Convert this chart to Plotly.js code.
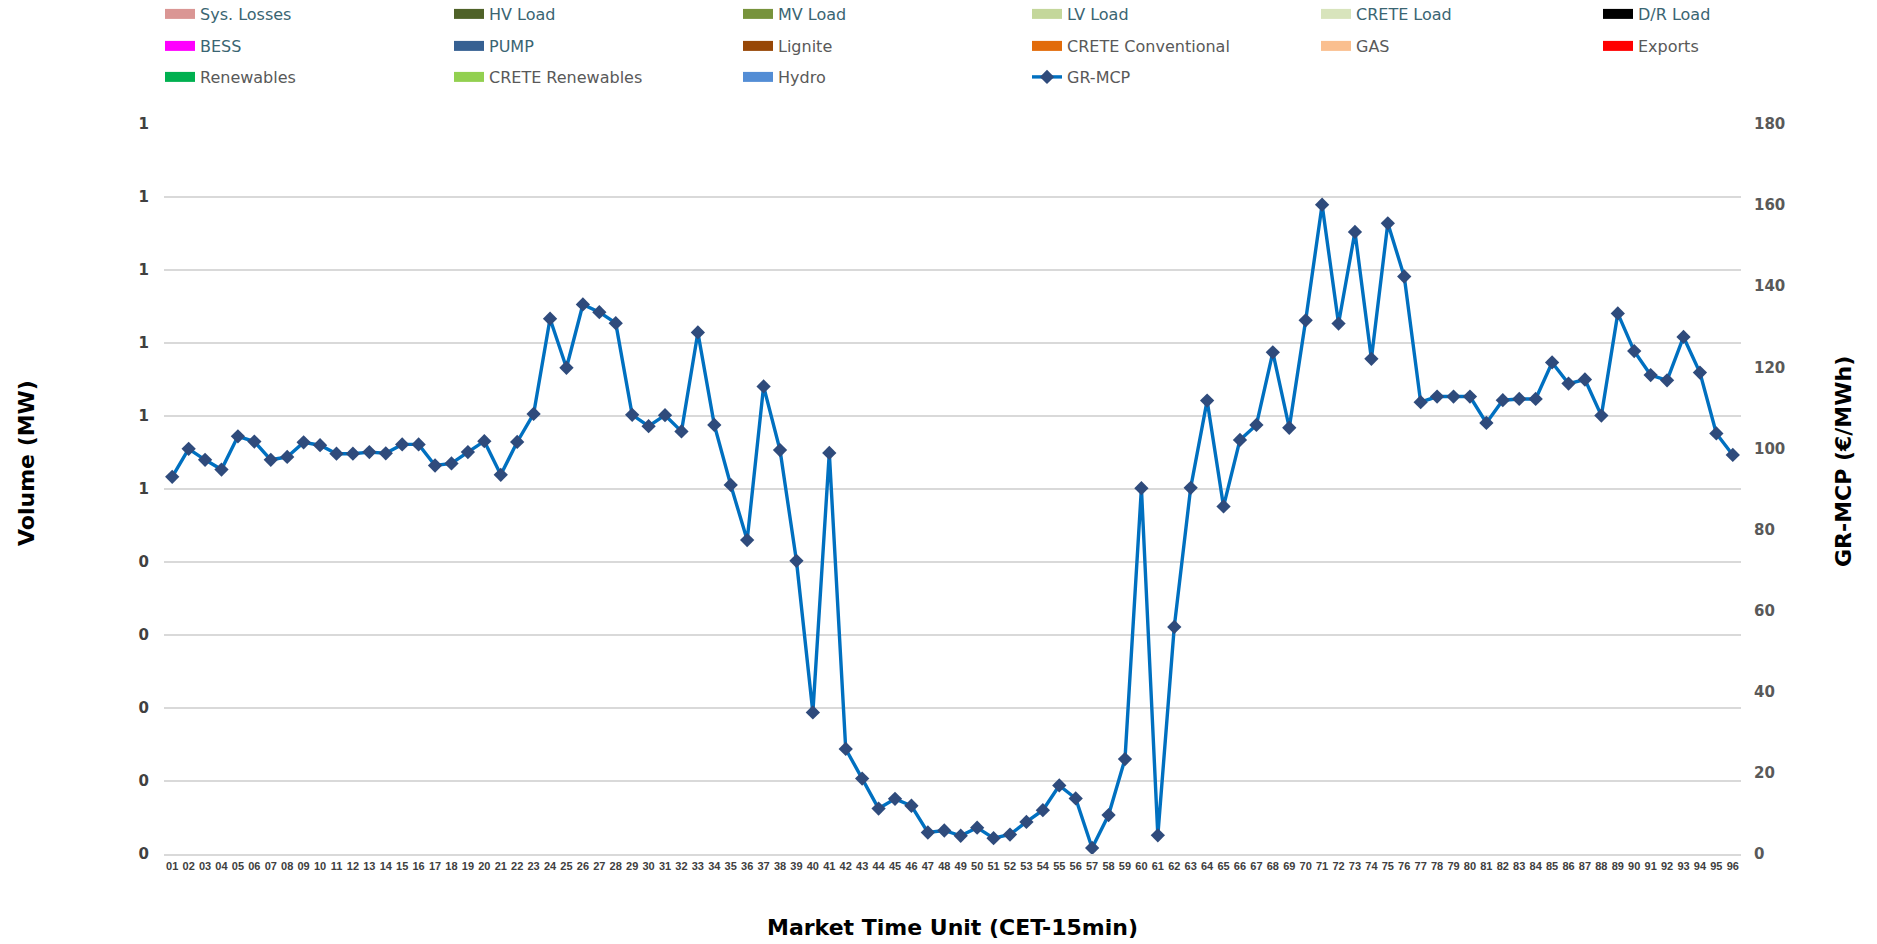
<!DOCTYPE html>
<html>
<head>
<meta charset="utf-8">
<script src="https://cdn.plot.ly/plotly-3.0.1.min.js"></script>
<style>
html,body{margin:0;padding:0;background:#ffffff;}
#chart{width:1877px;height:944px;}
</style>
</head>
<body>
<div id="chart"></div>
<script>
// Market time units (x categories)
const mtu = ['01','02','03','04','05','06','07','08','09','10','11','12','13','14','15','16',
  '17','18','19','20','21','22','23','24','25','26','27','28','29','30','31','32',
  '33','34','35','36','37','38','39','40','41','42','43','44','45','46','47','48',
  '49','50','51','52','53','54','55','56','57','58','59','60','61','62','63','64',
  '65','66','67','68','69','70','71','72','73','74','75','76','77','78','79','80',
  '81','82','83','84','85','86','87','88','89','90','91','92','93','94','95','96'];

// GR-MCP price (€/MWh)
const grMcp = [
  93.0, 99.9, 97.2, 94.8, 103.0, 101.7, 97.2, 97.9, 101.5, 100.8, 98.7, 98.7, 99.1, 98.8, 101.0, 101.0,
  95.8, 96.3, 99.1, 101.8, 93.5, 101.6, 108.5, 132.0, 119.9, 135.5, 133.6, 130.9, 108.3, 105.5, 108.2, 104.2,
  128.6, 105.8, 91.0, 77.4, 115.3, 99.6, 72.3, 34.9, 98.9, 25.9, 18.6, 11.2, 13.6, 11.9, 5.3, 5.8,
  4.5, 6.5, 3.9, 4.8, 7.9, 10.8, 16.9, 13.7, 1.5, 9.6, 23.4, 90.2, 4.6, 56.0, 90.3, 111.8,
  85.7, 102.1, 105.8, 123.7, 105.1, 131.6, 160.1, 130.8, 153.4, 122.1, 155.5, 142.4, 111.4, 112.8, 112.8, 112.8,
  106.3, 111.9, 112.2, 112.2, 121.2, 116.0, 117.0, 108.1, 133.3, 124.0, 118.1, 116.8, 127.5, 118.7, 103.7, 98.4
];

// Volume series (MW) - the reference shows no volume values (blank series)
const sysLosses = [null];
const hvLoad = [null];
const mvLoad = [null];
const lvLoad = [null];
const creteLoad = [null];
const drLoad = [null];
const bess = [null];
const pump = [null];
const lignite = [null];
const creteConventional = [null];
const gas = [null];
const exportsVol = [null];
const renewables = [null];
const creteRenewables = [null];
const hydro = [null];

// Left axis ticks (Volume) and right axis ticks (price)
const volTickVals = [0, 0.1, 0.2, 0.3, 0.4, 0.5, 0.6, 0.7, 0.8, 0.9, 1.0];
const volTickText = ['0', '0', '0', '0', '0', '1', '1', '1', '1', '1', '1'];
const priceTickVals = [0, 20, 40, 60, 80, 100, 120, 140, 160, 180];

const TEAL = '#3A6572';
const GREY = '#595959';

const volumeDefs = [
  {name: 'Sys. Losses', data: sysLosses, color: '#DA9694', txt: TEAL, legend: 'legend'},
  {name: 'HV Load', data: hvLoad, color: '#4F6228', txt: TEAL, legend: 'legend'},
  {name: 'MV Load', data: mvLoad, color: '#77933C', txt: TEAL, legend: 'legend'},
  {name: 'LV Load', data: lvLoad, color: '#C4D79B', txt: TEAL, legend: 'legend'},
  {name: 'CRETE Load', data: creteLoad, color: '#D8E4BC', txt: TEAL, legend: 'legend'},
  {name: 'D/R Load', data: drLoad, color: '#000000', txt: TEAL, legend: 'legend4'},
  {name: 'BESS', data: bess, color: '#FF00FF', txt: TEAL, legend: 'legend2'},
  {name: 'PUMP', data: pump, color: '#366092', txt: TEAL, legend: 'legend2'},
  {name: 'Lignite', data: lignite, color: '#974706', txt: GREY, legend: 'legend2'},
  {name: 'CRETE Conventional', data: creteConventional, color: '#E26B0A', txt: GREY, legend: 'legend2'},
  {name: 'GAS', data: gas, color: '#FABF8F', txt: GREY, legend: 'legend2'},
  {name: 'Exports', data: exportsVol, color: '#FF0000', txt: GREY, legend: 'legend5'},
  {name: 'Renewables', data: renewables, color: '#00B050', txt: GREY, legend: 'legend3'},
  {name: 'CRETE Renewables', data: creteRenewables, color: '#92D050', txt: GREY, legend: 'legend3'},
  {name: 'Hydro', data: hydro, color: '#538DD5', txt: GREY, legend: 'legend3'}
];

const traces = volumeDefs.map(d => ({
  type: 'scatter',
  mode: 'lines',
  x: mtu.slice(0, d.data.length),
  y: d.data,
  xaxis: 'x',
  yaxis: 'y',
  name: '<span style="color:' + d.txt + '">' + d.name + '</span>',
  line: {color: d.color, width: 11},
  legend: d.legend,
  hoverinfo: 'skip'
}));

traces.push({
  type: 'scatter',
  mode: 'lines+markers',
  x: mtu,
  y: grMcp,
  xaxis: 'x',
  yaxis: 'y2',
  name: '<span style="color:' + GREY + '">GR-MCP</span>',
  line: {color: '#0070C0', width: 3.4},
  marker: {symbol: 'diamond', size: 11, color: '#2F4B7C', line: {width: 0}},
  legend: 'legend3'
});

const FONT = 'DejaVu Sans, Lato, sans-serif';
const W = 1877, H = 944;
const legendBase = {
  orientation: 'h',
  xref: 'container', yref: 'container',
  xanchor: 'left', yanchor: 'middle',
  x: 160 / W,
  entrywidth: 244,
  entrywidthmode: 'pixels',
  bgcolor: 'rgba(0,0,0,0)',
  borderwidth: 0,
  font: {family: FONT, size: 16, color: GREY},
  itemclick: false, itemdoubleclick: false
};
const TITLE_FONT = {family: FONT, size: 22, color: '#000000', weight: 'bold'};

const layout = {
  width: W, height: H,
  paper_bgcolor: '#ffffff', plot_bgcolor: '#ffffff',
  margin: {l: 164, r: 136, t: 124, b: 90},
  font: {family: FONT, color: '#404040'},
  showlegend: true,
  legend: Object.assign({}, legendBase, {y: 1 - 14 / H}),
  legend2: Object.assign({}, legendBase, {y: 1 - 46 / H}),
  legend3: Object.assign({}, legendBase, {y: 1 - 77 / H}),
  legend4: Object.assign({}, legendBase, {x: 1598 / W, y: 1 - 14 / H}),
  legend5: Object.assign({}, legendBase, {x: 1598 / W, y: 1 - 46 / H}),
  xaxis: {
    type: 'category',
    categoryorder: 'array',
    categoryarray: mtu,
    range: [-0.5, mtu.length - 0.5],
    tickvals: mtu,
    ticktext: mtu,
    tickangle: 0,
    showgrid: false,
    showline: true, linecolor: '#D9D9D9', linewidth: 1.5,
    ticks: '',
    zeroline: false,
    tickfont: {family: 'Liberation Sans, Roboto, sans-serif', size: 11, color: '#404040', weight: 'bold'},
    ticklabelstandoff: 1,
    title: {text: 'Market Time Unit (CET-15min)', font: TITLE_FONT, standoff: 49},
    automargin: false,
    fixedrange: true
  },
  yaxis: {
    range: [0, 1],
    tickvals: volTickVals,
    ticktext: volTickText,
    showgrid: true, gridcolor: '#D9D9D9', gridwidth: 1.5,
    zeroline: false,
    showline: false,
    ticks: '',
    tickfont: {family: FONT, size: 15, color: '#404040', weight: 'bold'},
    ticklabelstandoff: 14,
    title: {text: ''},
    automargin: false,
    fixedrange: true
  },
  yaxis2: {
    overlaying: 'y',
    side: 'right',
    range: [0, 180],
    tickvals: priceTickVals,
    showgrid: false,
    zeroline: false,
    showline: false,
    ticks: '',
    tickfont: {family: FONT, size: 15, color: GREY, weight: 'bold'},
    ticklabelstandoff: 12,
    title: {text: ''},
    automargin: false,
    fixedrange: true
  },
  annotations: [
    {text: 'Volume (MW)', xref: 'paper', yref: 'paper', x: (26 - 164) / (W - 164 - 136), y: (854 - 463) / (854 - 124),
     xanchor: 'center', yanchor: 'middle', textangle: -90, showarrow: false, font: TITLE_FONT},
    {text: 'GR-MCP (€/MWh)', xref: 'paper', yref: 'paper', x: (1843 - 164) / (W - 164 - 136), y: (854 - 462) / (854 - 124),
     xanchor: 'center', yanchor: 'middle', textangle: -90, showarrow: false, font: TITLE_FONT}
  ]
};

Plotly.newPlot('chart', traces, layout, {displayModeBar: false, staticPlot: true});
</script>
</body>
</html>
